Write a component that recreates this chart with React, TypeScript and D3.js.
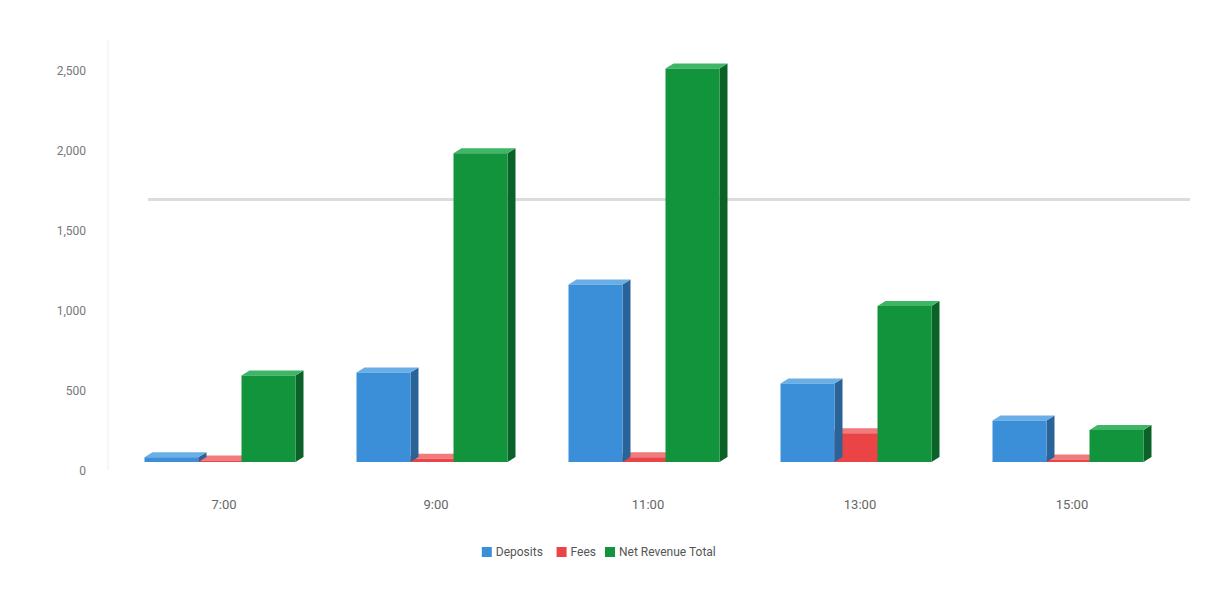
import React from "react";
import * as d3 from "d3";

const categories = ["7:00", "9:00", "11:00", "13:00", "15:00"];
const seriesNames = ["Deposits", "Fees", "Net Revenue Total"];
const deposits = [30, 560, 1110, 490, 260];
const fees = [10, 20, 30, 180, 15];
const netRevenue = [540, 1930, 2460, 975, 200];
const yTicks = [0, 500, 1000, 1500, 2000, 2500];
const targetValue = 1640;

const colors = ["#3b8fd8", "#ea4446", "#12943c"];
const sideColors = ["#2a6397", "#a83032", "#0b6228"];
const topColors = ["#6aaee6", "#f07a7c", "#3fb566"];

const W = 1221;
const H = 589;
const depthX = 8;
const depthY = 5;
const barFront = 54;

export default function App() {
	const series = [deposits, fees, netRevenue];

	const x = d3
		.scaleBand<string>()
		.domain(categories)
		.range([118, 1178])
		.paddingInner(0.25)
		.paddingOuter(0.125);

	// series offsets inside a group, bars overlap a little (3D look)
	const xInner = d3
		.scaleLinear()
		.domain([0, seriesNames.length - 1])
		.range([0, x.bandwidth() - barFront - depthX]);

	const y = d3.scaleLinear().domain([0, 2500]).range([462, 62]);

	const drawOrder = [1, 0, 2];
	const bars: React.ReactNode[] = [];
	categories.forEach((cat, ci) => {
		drawOrder.forEach((si) => {
			const vals = series[si];
			const x0 = (x(cat) ?? 0) + xInner(si);
			const w = barFront;
			const yTop = y(vals[ci]);
			const yBase = y(0);
			const front = `M${x0},${yTop} L${x0 + w},${yTop} L${x0 + w},${yBase} L${x0},${yBase} Z`;
			const side = `M${x0 + w},${yTop} L${x0 + w + depthX},${yTop - depthY} L${x0 + w + depthX},${yBase - depthY} L${x0 + w},${yBase} Z`;
			const top = `M${x0},${yTop} L${x0 + depthX},${yTop - depthY} L${x0 + w + depthX},${yTop - depthY} L${x0 + w},${yTop} Z`;
			bars.push(
				<g key={`${ci}-${si}`}>
					<path d={side} fill={sideColors[si]} />
					<path d={top} fill={topColors[si]} />
					<path d={front} fill={colors[si]} />
				</g>
			);
		});
	});

	// legend layout
	const legendY = 552;
	const legendItems = seriesNames.map((name, i) => ({ name, color: colors[i] }));
	const widths = legendItems.map((d) => d.name.length * 6.6 + 22);
	const totalW = d3.sum(widths);
	let lx = W / 2 - totalW / 2;

	return (
		<svg
			width={W}
			height={H}
			style={{ position: "absolute", left: 0, top: 0, background: "#fff" }}
			fontFamily="Roboto, Arial, sans-serif"
		>
			<line x1={108} x2={108} y1={40} y2={470} stroke="#eeeeee" />
			<line
				x1={148}
				x2={1190}
				y1={y(targetValue)}
				y2={y(targetValue)}
				stroke="#dcdcdc"
				strokeWidth={3}
			/>
			{yTicks.map((t) => (
				<text
					key={t}
					x={86}
					y={y(t) + 13}
					textAnchor="end"
					fontSize={12}
					fill="#777"
				>
					{d3.format(",")(t)}
				</text>
			))}
			{bars}
			{categories.map((c) => (
				<text
					key={c}
					x={(x(c) ?? 0) + x.bandwidth() / 2}
					y={509}
					textAnchor="middle"
					fontSize={13}
					fill="#666"
				>
					{c}
				</text>
			))}
			{legendItems.map((d, i) => {
				const gx = lx;
				lx += widths[i];
				return (
					<g key={d.name} transform={`translate(${gx},${legendY})`}>
						<rect x={0} y={-5} width={10} height={10} fill={d.color} />
						<text x={14} y={4} fontSize={12} fill="#555">
							{d.name}
						</text>
					</g>
				);
			})}
		</svg>
	);
}
